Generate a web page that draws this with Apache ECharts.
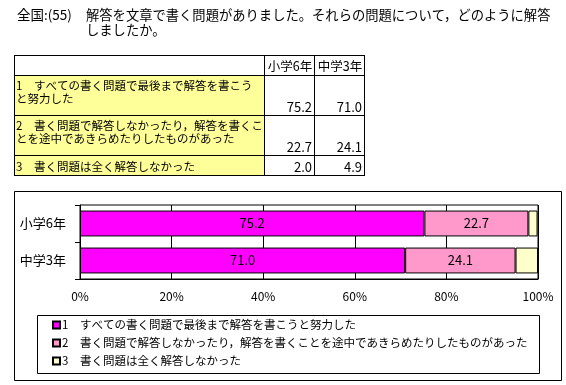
<!DOCTYPE html>
<html><head><meta charset="utf-8">
<script src="https://cdn.jsdelivr.net/npm/echarts@6/dist/echarts.min.js"></script>
<style>html,body{margin:0;padding:0;background:#fff}#c{width:566px;height:385px}</style>
</head><body><div id="c"></div>
<script>
// ---- data ----
const titlePrefix = '全国:(55) ';
const titleLine1 = '解答を文章で書く問題がありました。それらの問題について，どのように解答';
const titleLine2 = 'しましたか。';
const grades = ['小学6年', '中学3年'];
const answerLabels = [
  '1　すべての書く問題で最後まで解答を書こうと努力した',
  '2　書く問題で解答しなかったり，解答を書くことを途中であきらめたりしたものがあった',
  '3　書く問題は全く解答しなかった'
];
const tableLabels = [
  '1　すべての書く問題で最後まで解答を書こう\nと努力した',
  '2　書く問題で解答しなかったり，解答を書くこ\nとを途中であきらめたりしたものがあった',
  '3　書く問題は全く解答しなかった'
];
const elementary6 = [75.2, 22.7, 2.0];
const juniorHigh3 = [71.0, 24.1, 4.9];
const xTickValues = [0, 20, 40, 60, 80, 100];
const colors = ['#FF00FF', '#FF99CC', '#FFFFCC'];

const FONT = '"Noto Sans CJK JP", sans-serif';
const chart = echarts.init(document.getElementById('c'));

// ---- table (graphic) ----
const colX = [14, 264, 314, 364];
const rowY = [55, 75, 115, 155, 175];
const graphics = [];
graphics.push({type:'text', x:17, y:15, style:{text:titlePrefix, font:'13.5px '+FONT, fill:'#000', textVerticalAlign:'middle'}});
graphics.push({type:'text', x:86, y:15, style:{text:titleLine1, font:'13.3px '+FONT, fill:'#000', textVerticalAlign:'middle'}});
graphics.push({type:'text', x:86, y:30, style:{text:titleLine2, font:'13.3px '+FONT, fill:'#000', textVerticalAlign:'middle'}});
for (let r = 0; r < 3; r++) {
  graphics.push({type:'rect', shape:{x:colX[0], y:rowY[r+1], width:colX[1]-colX[0], height:rowY[r+2]-rowY[r+1]}, style:{fill:'#FFFF99'}});
}
colX.forEach(x => graphics.push({type:'line', shape:{x1:x+0.5, y1:rowY[0], x2:x+0.5, y2:rowY[4]+1}, style:{stroke:'#000', lineWidth:1}}));
rowY.forEach(y => graphics.push({type:'line', shape:{x1:colX[0], y1:y+0.5, x2:colX[3]+1, y2:y+0.5}, style:{stroke:'#000', lineWidth:1}}));
grades.forEach((g, i) => graphics.push({type:'text', x:(colX[i+1]+colX[i+2])/2+1, y:(rowY[0]+rowY[1])/2+1, style:{text:g, font:'12.5px '+FONT, fill:'#000', textAlign:'center', textVerticalAlign:'middle'}}));
const colVals = [elementary6, juniorHigh3];
tableLabels.forEach((t, r) => {
  graphics.push({type:'text', x:16, y:rowY[r+1]+(r===2?5:4), style:{text:t, font:'11.5px '+FONT, fill:'#000', lineHeight:13}});
  colVals.forEach((vals, c) => {
    graphics.push({type:'text', x:colX[c+2]-2, y:rowY[r+2]-1, style:{text:vals[r].toFixed(1), font:'13px '+FONT, fill:'#000', textAlign:'right', textVerticalAlign:'bottom'}});
  });
});
graphics.push({type:'rect', shape:{x:14.5, y:191.5, width:547, height:189}, style:{fill:'none', stroke:'#000', lineWidth:1}, z:-1});
graphics.push({type:'rect', shape:{x:37.5, y:315.5, width:502, height:58}, style:{fill:'none', stroke:'#000', lineWidth:1}, z:-1});

const series = answerLabels.map((name, i) => ({
  name: name,
  type: 'bar',
  stack: 'total',
  barCategoryGap: '30%',
  data: [elementary6[i], juniorHigh3[i]],
  itemStyle: {color: colors[i], borderColor: '#000', borderWidth: 1},
  label: {show: i < 2, position: 'inside', color: '#000', fontSize: 13, fontFamily: FONT,
          formatter: p => p.value.toFixed(1)},
  emphasis: {disabled: true}
}));

chart.setOption({
  animation: false,
  textStyle: {fontFamily: FONT},
  graphic: graphics,
  grid: {left: 80, right: 28, top: 205, bottom: 106, show: true, borderColor: '#000', borderWidth: 1},
  xAxis: {
    type: 'value', min: xTickValues[0], max: xTickValues[xTickValues.length-1], interval: 20,
    axisLine: {show: true, lineStyle: {color: '#000'}},
    axisTick: {show: false},
    splitLine: {show: true, lineStyle: {color: '#000', width: 1}},
    axisLabel: {color: '#000', fontSize: 12, margin: 11, formatter: '{value}%'}
  },
  yAxis: {
    type: 'category', data: grades, inverse: true,
    axisLine: {show: true, lineStyle: {color: '#000'}},
    axisTick: {show: true, length: 5, lineStyle: {color: '#000'}},
    axisLabel: {color: '#000', fontSize: 13, margin: 14}
  },
  legend: {
    orient: 'vertical', left: 52, top: 319, padding: 0, itemWidth: 7, itemHeight: 7, itemGap: 6,
    icon: 'rect', selectedMode: false,
    textStyle: {color: '#000', fontSize: 11.5, fontFamily: FONT, lineHeight: 12, padding: [0,0,0,-3]},
    data: answerLabels
  },
  series: series
});
</script></body></html>
